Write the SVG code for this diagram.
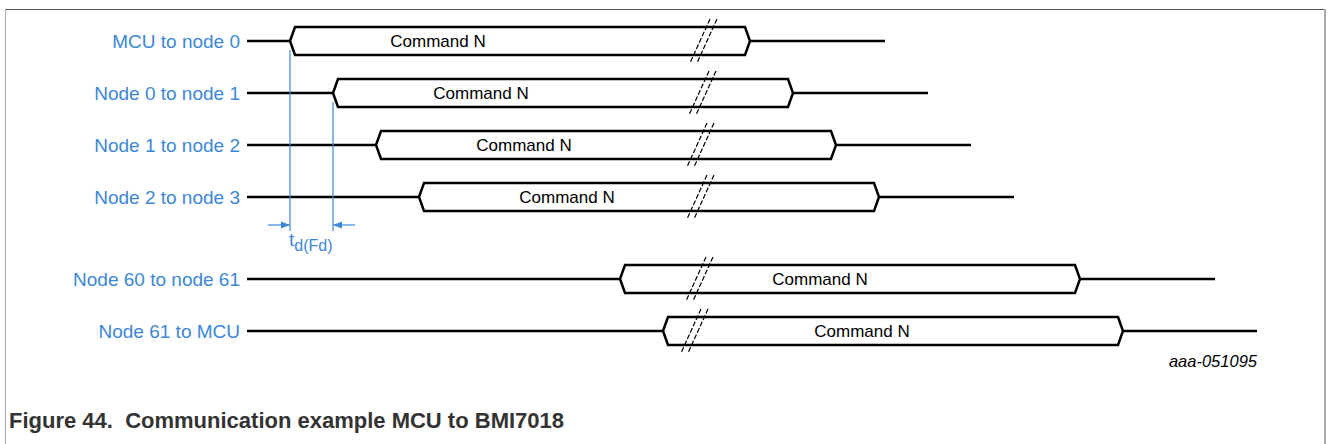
<svg xmlns="http://www.w3.org/2000/svg" width="1328" height="444" viewBox="0 0 1328 444">
<style>
.lbl{font-family:"Liberation Sans",Arial,sans-serif;font-size:19px;fill:#3d87d4;text-anchor:end}
.cmd{font-family:"Liberation Sans",Arial,sans-serif;font-size:17px;fill:#000;text-anchor:middle}
.sig{fill:none;stroke:#000;stroke-width:2.5;stroke-linejoin:miter}
.brk{fill:none;stroke:#000;stroke-width:1.2;stroke-dasharray:5 2}
.dim{fill:none;stroke:#3d87d4;stroke-width:1.2}
</style>
<defs>
<marker id="ah" viewBox="0 0 10 10" refX="10" refY="5" markerWidth="9" markerHeight="9" markerUnits="userSpaceOnUse" orient="auto"><path d="M0,1 L10,5 L0,9 Z" fill="#3d87d4"/></marker>
</defs>
<rect x="0" y="0" width="1328" height="444" fill="#fff"/>
<g id="frame">
<line x1="5" y1="9.5" x2="1326" y2="9.5" stroke="#555" stroke-width="1"/>
<line x1="5.5" y1="9" x2="5.5" y2="444" stroke="#aaa" stroke-width="1"/>
<line x1="1325" y1="9" x2="1325" y2="444" stroke="#aaa" stroke-width="2"/>
</g>
<g id="row1">
<text class="lbl" x="240" y="48">MCU to node 0</text>
<path class="sig" d="M247,41 H290 M290,41 L295,27 H745 L750,41 L745,55 H295 Z M750,41 H885"/>
<text class="cmd" x="438" y="47">Command N</text>
<path class="brk" d="M710,19 L690,63 M717,19 L697,63"/>
</g>
<g id="row2">
<text class="lbl" x="240" y="100">Node 0 to node 1</text>
<path class="sig" d="M247,93 H333 M333,93 L338,79 H788 L793,93 L788,107 H338 Z M793,93 H928"/>
<text class="cmd" x="481" y="99">Command N</text>
<path class="brk" d="M709,71 L689,115 M716,71 L696,115"/>
</g>
<g id="row3">
<text class="lbl" x="240" y="152">Node 1 to node 2</text>
<path class="sig" d="M247,145 H376 M376,145 L381,131 H831 L836,145 L831,159 H381 Z M836,145 H971"/>
<text class="cmd" x="524" y="151">Command N</text>
<path class="brk" d="M707,123 L687,167 M714,123 L694,167"/>
</g>
<g id="row4">
<text class="lbl" x="240" y="204">Node 2 to node 3</text>
<path class="sig" d="M247,197 H419 M419,197 L424,183 H874 L879,197 L874,211 H424 Z M879,197 H1014"/>
<text class="cmd" x="567" y="203">Command N</text>
<path class="brk" d="M707,175 L687,219 M714,175 L694,219"/>
</g>
<g id="row5">
<text class="lbl" x="240" y="286">Node 60 to node 61</text>
<path class="sig" d="M247,279 H620 M620,279 L625,265 H1075 L1080,279 L1075,293 H625 Z M1080,279 H1215"/>
<text class="cmd" x="820" y="285">Command N</text>
<path class="brk" d="M706,257 L686,301 M713,257 L693,301"/>
</g>
<g id="row6">
<text class="lbl" x="240" y="338">Node 61 to MCU</text>
<path class="sig" d="M247,331 H663 M663,331 L668,317 H1118 L1123,331 L1118,345 H668 Z M1123,331 H1257"/>
<text class="cmd" x="862" y="337">Command N</text>
<path class="brk" d="M701,309 L681,353 M708,309 L688,353"/>
</g>
<g id="connectors">
<line class="dim" x1="290" y1="50" x2="290" y2="231"/>
<line class="dim" x1="333" y1="102" x2="333" y2="231"/>
<line class="dim" x1="268" y1="225" x2="290" y2="225" marker-end="url(#ah)"/>
<line class="dim" x1="355" y1="225" x2="333" y2="225" marker-end="url(#ah)"/>
</g>
<g id="annotation">
<text x="289" y="246" font-family="Liberation Sans,Arial,sans-serif" font-size="19" fill="#3d87d4">t<tspan dy="5" font-size="16">d(Fd)</tspan></text>
</g>
<text x="1257" y="367" font-family="Liberation Sans,Arial,sans-serif" font-size="16.5" font-style="italic" text-anchor="end" fill="#000">aaa-051095</text>
<text x="9" y="428" font-family="Liberation Sans,Arial,sans-serif" font-size="22" font-weight="bold" fill="#333" xml:space="preserve">Figure 44.  Communication example MCU to BMI7018</text>
</svg>
